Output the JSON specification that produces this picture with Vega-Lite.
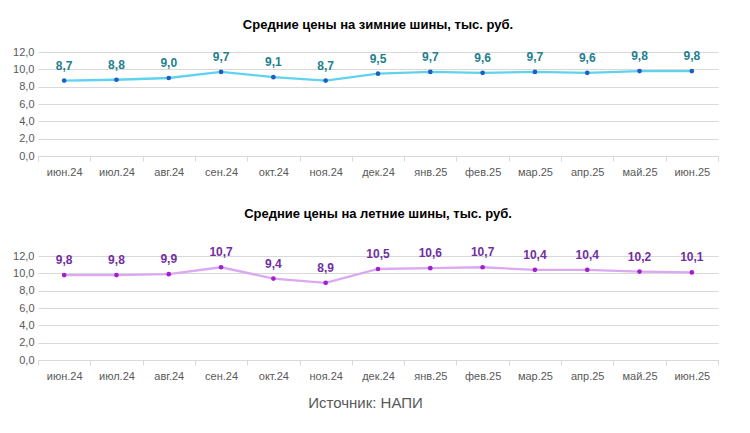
{
  "$schema": "https://vega.github.io/schema/vega-lite/v6.json",
  "background": "#ffffff",
  "padding": {"left": 12, "top": 19, "right": 5, "bottom": 5},
  "datasets": {
    "prices": [
      {"month": "июн.24", "winter": 8.7, "summer": 9.8},
      {"month": "июл.24", "winter": 8.8, "summer": 9.8},
      {"month": "авг.24", "winter": 9.0, "summer": 9.9},
      {"month": "сен.24", "winter": 9.7, "summer": 10.7},
      {"month": "окт.24", "winter": 9.1, "summer": 9.4},
      {"month": "ноя.24", "winter": 8.7, "summer": 8.9},
      {"month": "дек.24", "winter": 9.5, "summer": 10.5},
      {"month": "янв.25", "winter": 9.7, "summer": 10.6},
      {"month": "фев.25", "winter": 9.6, "summer": 10.7},
      {"month": "мар.25", "winter": 9.7, "summer": 10.4},
      {"month": "апр.25", "winter": 9.6, "summer": 10.4},
      {"month": "май.25", "winter": 9.8, "summer": 10.2},
      {"month": "июн.25", "winter": 9.8, "summer": 10.1}
    ]
  },
  "title": {
    "text": "Источник: НАПИ",
    "orient": "bottom",
    "anchor": "middle",
    "fontSize": 15,
    "fontWeight": "normal",
    "color": "#595959",
    "offset": 15
  },
  "bounds": "flush",
  "spacing": 100,
  "vconcat": [
    {
      "width": 680,
      "height": 104,
      "data": {"name": "prices"},
      "title": {"text": "Средние цены на зимние шины, тыс. руб.", "offset": 14},
      "encoding": {
        "x": {"field": "month", "type": "ordinal", "sort": null,
              "scale": {"type": "band", "paddingInner": 0, "paddingOuter": 0}},
        "y": {"field": "winter", "type": "quantitative", "scale": {"domain": [0, 12]},
              "axis": {"values": [0, 2, 4, 6, 8, 10, 12], "format": ".1f"}}
      },
      "layer": [
        {"mark": {"type": "line", "color": "#5fd3ee", "strokeWidth": 2.3}},
        {"mark": {"type": "point", "filled": true, "color": "#1a5fc4", "size": 22, "opacity": 1}},
        {"mark": {"type": "text", "dy": -8, "baseline": "bottom", "fontWeight": "bold", "fontSize": 12, "color": "#237f8f"},
         "encoding": {"text": {"field": "winter", "type": "quantitative", "format": ".1f"}}}
      ]
    },
    {
      "width": 680,
      "height": 104,
      "data": {"name": "prices"},
      "title": {"text": "Средние цены на летние шины, тыс. руб.", "offset": 25},
      "encoding": {
        "x": {"field": "month", "type": "ordinal", "sort": null,
              "scale": {"type": "band", "paddingInner": 0, "paddingOuter": 0}},
        "y": {"field": "summer", "type": "quantitative", "scale": {"domain": [0, 12]},
              "axis": {"values": [0, 2, 4, 6, 8, 10, 12], "format": ".1f"}}
      },
      "layer": [
        {"mark": {"type": "line", "color": "#dba8f2", "strokeWidth": 2.3}},
        {"mark": {"type": "point", "filled": true, "color": "#a21fd0", "size": 22, "opacity": 1}},
        {"mark": {"type": "text", "dy": -8, "baseline": "bottom", "fontWeight": "bold", "fontSize": 12, "color": "#7030a0"},
         "encoding": {"text": {"field": "summer", "type": "quantitative", "format": ".1f"}}}
      ]
    }
  ],
  "config": {
    "locale": {"number": {"decimal": ",", "thousands": " ", "grouping": [3], "currency": ["", ""]}},
    "font": "Liberation Sans",
    "view": {"stroke": null},
    "title": {"fontSize": 13, "fontWeight": "bold", "color": "#000000", "anchor": "middle", "font": "Liberation Sans"},
    "axisX": {
      "title": null, "labelAngle": 0, "grid": false, "tickBand": "extent",
      "domainColor": "#d9d9d9", "tickColor": "#d9d9d9", "tickSize": 5,
      "labelFontSize": 11, "labelColor": "#595959", "labelPadding": 5
    },
    "axisY": {
      "title": null,
      "domain": false, "ticks": false, "gridColor": "#d9d9d9",
      "labelFontSize": 11, "labelColor": "#595959", "labelPadding": 4
    }
  }
}
